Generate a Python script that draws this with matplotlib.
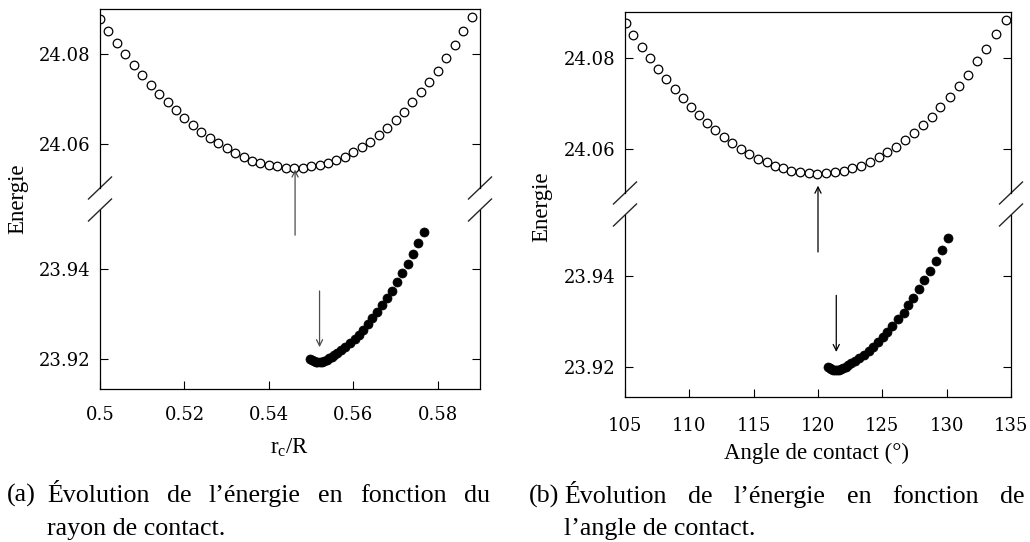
import matplotlib
matplotlib.use("Agg")
import matplotlib.pyplot as plt

# -------------------------
# Data
# -------------------------

# open circles (upper branch), same energies in both panels
rc_open = [0.500, 0.502, 0.504, 0.506, 0.508, 0.510, 0.512, 0.514, 0.516, 0.518,
           0.520, 0.522, 0.524, 0.526, 0.528, 0.530, 0.532, 0.534, 0.536, 0.538,
           0.540, 0.542, 0.544, 0.546, 0.548, 0.550, 0.552, 0.554, 0.556, 0.558,
           0.560, 0.562, 0.564, 0.566, 0.568, 0.570, 0.572, 0.574, 0.576, 0.578,
           0.580, 0.582, 0.584, 0.586, 0.588]
angle_open = [105.07, 105.66, 106.29, 106.91, 107.56, 108.18, 108.86, 109.51, 110.16, 110.78,
              111.40, 112.03, 112.67, 113.35, 114.02, 114.67, 115.32, 116.00, 116.64, 117.30,
              117.94, 118.62, 119.29, 119.94, 120.62, 121.32, 121.99, 122.67, 123.32, 124.02,
              124.72, 125.40, 126.07, 126.75, 127.45, 128.15, 128.85, 129.52, 130.25, 130.95,
              131.65, 132.35, 133.08, 133.81, 134.61]
E_open = [24.0877, 24.0850, 24.0824, 24.0800, 24.0776, 24.0754, 24.0732, 24.0712, 24.0693, 24.0675,
          24.0657, 24.0642, 24.0626, 24.0613, 24.0601, 24.0590, 24.0579, 24.0571, 24.0563, 24.0558,
          24.0553, 24.0550, 24.0547, 24.0546, 24.0547, 24.0550, 24.0553, 24.0558, 24.0564, 24.0572,
          24.0582, 24.0593, 24.0605, 24.0620, 24.0636, 24.0653, 24.0671, 24.0693, 24.0715, 24.0738,
          24.0763, 24.0792, 24.0820, 24.0851, 24.0883]

# filled circles (lower branch)
rc_fill = [0.5497, 0.5502, 0.5507, 0.5511, 0.5515, 0.5520, 0.5525, 0.5531, 0.5537, 0.5543,
           0.5549, 0.5555, 0.5562, 0.5571, 0.5581, 0.5593, 0.5603, 0.5613, 0.5623, 0.5634,
           0.5644, 0.5656, 0.5667, 0.5679, 0.5691, 0.5703, 0.5716, 0.5729, 0.5741, 0.5753,
           0.5767]
angle_fill = [120.77, 120.90, 121.03, 121.15, 121.30, 121.45, 121.62, 121.80, 121.98, 122.16,
              122.36, 122.60, 122.90, 123.21, 123.58, 123.96, 124.30, 124.67, 125.05, 125.40,
              125.78, 126.24, 126.66, 127.03, 127.41, 127.84, 128.25, 128.67, 129.15, 129.65,
              130.12]
E_fill = [23.9201, 23.9198, 23.9196, 23.9195, 23.9194, 23.9194, 23.9195, 23.9197, 23.9199, 23.9202,
          23.9206, 23.9210, 23.9215, 23.9221, 23.9228, 23.9236, 23.9245, 23.9255, 23.9266, 23.9278,
          23.9291, 23.9306, 23.9320, 23.9336, 23.9353, 23.9371, 23.9391, 23.9412, 23.9434, 23.9458,
          23.9484]

xticks_a = [0.50, 0.52, 0.54, 0.56, 0.58]
xticklabels_a = ["0.5", "0.52", "0.54", "0.56", "0.58"]
xticks_b = [105, 110, 115, 120, 125, 130, 135]
yticks_top = [24.06, 24.08]
yticks_bot = [23.92, 23.94]

# arrows: (x, y_tail, y_head) ; "up" arrows start in lower axes
arrow_a_up = (0.5462, 23.9476, 24.0543)
arrow_a_down = (0.5520, 23.9352, 23.9227)
arrow_b_up = (120.0, 23.9453, 24.0520)
arrow_b_down = (121.42, 23.9358, 23.9234)

caption_a1 = ["Évolution", "de", "l’énergie", "en", "fonction", "du"]
caption_a2 = "rayon de contact."
caption_b1 = ["Évolution", "de", "l’énergie", "en", "fonction", "de"]
caption_b2 = "l’angle de contact."

# -------------------------
# Figure
# -------------------------
W, H = 1030, 542
plt.rcParams["mathtext.fontset"] = "custom"
plt.rcParams["mathtext.rm"] = "Liberation Serif"
plt.rcParams["mathtext.it"] = "Liberation Serif:italic"

fig = plt.figure(figsize=(W / 100, H / 100), dpi=100)

TICKFONT = dict(family="DejaVu Serif", size=13)
LABELFONT = dict(family="Liberation Serif", size=16.5)
CAPFONT = dict(family="Liberation Serif", size=18.7)


def box(left, top, right, bottom):
    return [left / W, 1 - bottom / H, (right - left) / W, (bottom - top) / H]


def slash(ax, y, wpx, hpx):
    dx = 11.5 / wpx
    dy = 11.0 / hpx
    for x0 in (0, 1):
        ax.plot([x0 - dx, x0 + dx], [y - dy, y + dy], transform=ax.transAxes,
                color="0.15", lw=1.0, clip_on=False)


def panel(left, right, top, brk1, brk2, bottom, xo, xf, xlim, xticks, xticklabels,
          ylim_top, ylim_bot, xpad, arr_up, arr_down, arrow_color):
    ax_t = fig.add_axes(box(left, top, right, brk1))
    ax_b = fig.add_axes(box(left, brk2, right, bottom))
    for ax in (ax_t, ax_b):
        ax.set_facecolor("none")
        ax.set_xlim(*xlim)
        for s in ax.spines.values():
            s.set_linewidth(0.9)
        ax.tick_params(axis="y", direction="in", length=5.5, width=0.8,
                       left=True, right=True, pad=7)
    ax_t.spines["bottom"].set_visible(False)
    ax_b.spines["top"].set_visible(False)
    ax_t.tick_params(axis="x", bottom=False, top=False, labelbottom=False)
    ax_b.tick_params(axis="x", direction="in", length=6, width=0.8, top=False, pad=xpad)

    ax_t.plot(xo, E_open, "o", ms=6.2, mfc="white", mec="black", mew=0.9)
    ax_b.plot(xf, E_fill, "o", ms=6.5, mfc="black", mec="black", mew=0.5)

    ax_t.set_ylim(*ylim_top)
    ax_b.set_ylim(*ylim_bot)
    ax_t.set_yticks(yticks_top)
    ax_t.set_yticklabels(["%.2f" % v for v in yticks_top], **TICKFONT)
    ax_b.set_yticks(yticks_bot)
    ax_b.set_yticklabels(["%.2f" % v for v in yticks_bot], **TICKFONT)
    ax_b.set_xticks(xticks)
    ax_b.set_xticklabels(xticklabels, **TICKFONT)

    slash(ax_t, 0, right - left, brk1 - top)
    slash(ax_b, 1, right - left, bottom - brk2)

    ap = dict(arrowstyle="->", lw=0.9, color=arrow_color, shrinkA=0, shrinkB=0,
              mutation_scale=11)
    x, y0, y1 = arr_up
    ax_b.annotate("", xy=(x, y1), xycoords=ax_t.transData, xytext=(x, y0),
                  textcoords="data", arrowprops=ap, annotation_clip=False)
    x, y0, y1 = arr_down
    ax_b.annotate("", xy=(x, y1), xytext=(x, y0), arrowprops=ap)
    return ax_t, ax_b


panel(100, 480, 9, 188, 210, 389, rc_open, rc_fill, (0.5, 0.59),
      xticks_a, xticklabels_a, (24.0502, 24.09), (23.9134, 23.9532), 12.5,
      arrow_a_up, arrow_a_down, "0.3")
panel(625, 1011, 12, 193, 215, 396.7, angle_open, angle_fill, (105, 135),
      xticks_b, [str(v) for v in xticks_b], (24.0504, 24.09), (23.9136, 23.9534), 14.5,
      arrow_b_up, arrow_b_down, "black")

# axis labels
fig.text(17.5 / W, 1 - 199 / H, "Energie", rotation=90, ha="center", va="center", **LABELFONT)
fig.text(542 / W, 1 - 207 / H, "Energie", rotation=90, ha="center", va="center", **LABELFONT)
fig.text(290 / W, 1 - 447 / H, r"$\mathrm{r_c/R}$", ha="center", va="center",
         fontsize=LABELFONT["size"])
fig.text(817 / W, 1 - 453 / H, "Angle de contact (°)", ha="center", va="center", **LABELFONT)


# captions: first line justified between x0 and x1 (pixels)
def justified(words, x0, x1, ybase):
    renderer = fig.canvas.get_renderer()
    texts = [fig.text(0, 1 - ybase / H, w, ha="left", va="baseline", **CAPFONT) for w in words]
    widths = [t.get_window_extent(renderer).width for t in texts]
    gap = (x1 - x0 - sum(widths)) / (len(words) - 1)
    x = x0
    for t, w in zip(texts, widths):
        t.set_x(x / W)
        x += w + gap


fig.text(7 / W, 1 - 502 / H, "(a)", ha="left", va="baseline", **CAPFONT)
justified(caption_a1, 47, 490, 502)
fig.text(47 / W, 1 - 535 / H, caption_a2, ha="left", va="baseline", **CAPFONT)

fig.text(529 / W, 1 - 503 / H, "(b)", ha="left", va="baseline", **CAPFONT)
justified(caption_b1, 564, 1025, 503)
fig.text(564 / W, 1 - 535 / H, caption_b2, ha="left", va="baseline", **CAPFONT)

fig.savefig("out.png", dpi=100)
